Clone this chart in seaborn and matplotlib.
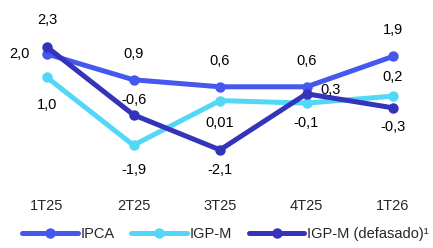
import pandas as pd
import matplotlib
matplotlib.use("Agg")
import matplotlib.pyplot as plt
import seaborn as sns

# --- data ---
quarters = ["1T25", "2T25", "3T25", "4T25", "1T26"]
ipca = [2.0, 0.9, 0.6, 0.6, 1.9]
igpm = [1.0, -1.9, 0.01, -0.1, 0.2]
igpm_lag = [2.3, -0.6, -2.1, 0.3, -0.3]
ipca_txt = ["2,0", "0,9", "0,6", "0,6", "1,9"]
igpm_txt = ["1,0", "-1,9", "0,01", "-0,1", "0,2"]
igpm_lag_txt = ["2,3", "-0,6", "-2,1", "0,3", "-0,3"]
series_names = ["IPCA", "IGP-M", "IGP-M (defasado)¹"]

df = pd.DataFrame({
    "trimestre": quarters * 3,
    "pos": list(range(len(quarters))) * 3,
    "valor": ipca + igpm + igpm_lag,
    "serie": [series_names[0]] * 5 + [series_names[1]] * 5 + [series_names[2]] * 5,
})

colors = {"IPCA": "#4657ee", "IGP-M": "#52d8f6", "IGP-M (defasado)¹": "#3434bb"}

sns.set_style("white")
plt.rcParams['font.family'] = ['Liberation Sans Narrow', 'Liberation Sans', 'DejaVu Sans']

fig = plt.figure(figsize=(4.33, 2.48), dpi=100)
ax = fig.add_axes([0, 53 / 248, 1, 1 - 83 / 248])

sns.lineplot(data=df, x="pos", y="valor", hue="serie", palette=colors,
             marker="o", markersize=7.5, markeredgewidth=0, linewidth=3.6,
             ax=ax, legend=True)

# label offsets in pixels (dx, dy)
ipca_off = [(-28, 0), (0, 26), (0, 26), (0, 26), (0, 26)]
igpm_off = [(0, -28), (0, -25), (0, -22), (0, -20), (0, 19)]
lag_off = [(0, 27), (0, 15), (0, -20), (24, 4), (0, -19)]

for vals, txts, offs in [(ipca, ipca_txt, ipca_off), (igpm, igpm_txt, igpm_off),
                         (igpm_lag, igpm_lag_txt, lag_off)]:
    for i, (v, t, o) in enumerate(zip(vals, txts, offs)):
        ax.annotate(t, (i, v), xytext=o, textcoords="offset pixels",
                    ha="center", va="center", fontsize=10.5, color="black")

ax.set_xlim(-47 / 86.5, (433 - 47) / 86.5)
ax.set_ylim(-4.03, 3.03)
ax.set_xticks(range(len(quarters)))
ax.set_xticklabels(quarters, fontsize=10.5)
ax.set_yticks([])
ax.set_xlabel("")
ax.set_ylabel("")
ax.tick_params(axis="x", length=0, pad=3)
for s in ax.spines.values():
    s.set_visible(False)

handles, labels = ax.get_legend_handles_labels()
ax.legend(handles, labels, loc="lower center", bbox_to_anchor=(0.521, 0.0),
          bbox_transform=fig.transFigure, ncol=3, frameon=False,
          fontsize=10.5, handlelength=3.8, handletextpad=0.2, columnspacing=1.15,
          borderaxespad=0.1)

fig.savefig("out.png", dpi=100)
